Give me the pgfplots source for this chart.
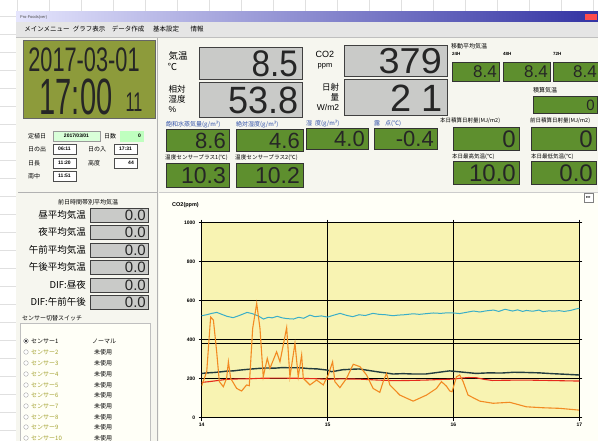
\documentclass[border=0pt]{standalone}
\usepackage{fontspec}
\setmainfont{Noto Sans CJK JP}
\newfontfamily\lcd{Liberation Sans}
\newfontfamily\lat{Liberation Sans}
\newfontfamily\sym{DejaVu Sans}
\usepackage{pgfplots}
\pgfplotsset{compat=1.18}
\definecolor{lcdg}{HTML}{5E8F2E}
\definecolor{lcdgray}{HTML}{C9CAC8}
\definecolor{clockg}{HTML}{8D9B3B}
\definecolor{winbg}{HTML}{F6F6EF}
\definecolor{chartbg}{HTML}{F8F3B2}
\definecolor{cyanl}{HTML}{3AAEC8}
\definecolor{darkl}{HTML}{233C3E}
\definecolor{redl}{HTML}{E62A1C}
\definecolor{orangel}{HTML}{F28A22}
\definecolor{lblue}{HTML}{2F4FA8}
\definecolor{dimtxt}{HTML}{A3A12E}
\newcommand\fs[1]{\fontsize{#1}{#1}\selectfont}
\begin{document}
\begin{tikzpicture}
\path[use as bounding box] (0,0) rectangle (598pt,-441pt);
\begin{scope}[x=1pt,y=-1pt,
  gbox/.style={fill=lcdg, draw=black!80, line width=0.9pt},
  ybox/.style={fill=lcdgray, draw=black!75, line width=0.9pt},
  num/.style={anchor=east, inner sep=0pt, font=\lcd, text=black!85},
  lab/.style={inner sep=0pt, font=\fs{6}},
  blab/.style={inner sep=0pt, font=\fs{6}, text=lblue}]
% page background with spreadsheet grid
\fill[white] (0,0) rectangle (598,441);
\foreach \x in {17,49,81,113,145,177,209,241,273,305,337,369,401,433,465,497,529,561,593}
  \draw[black!12] (\x,0) -- (\x,12);
\foreach \y in {16,34,52,70,88,106,124,142,160,178,196,214,232,250,268,286,304,322,340,358,376,394,412,430}
  \draw[black!12] (0,\y) -- (16,\y);
% window
\fill[winbg] (16,12) rectangle (598,441);
\shade[left color=black!8!blue!10, right color=blue!55!black!80] (16,12) rectangle (598,22);
\node[anchor=west, inner sep=0, font=\lat\fs{4}, text=black!70] at (20,17) {Pro-Foods(ver)};
\fill[red!70] (585,14) rectangle (597,20);
\fill[white!90!black] (16,22) rectangle (598,37);
\node[lab, font=\fs{6.5}] at (47,29) {メインメニュー};
\node[lab, font=\fs{6.5}] at (89,29) {グラフ表示};
\node[lab, font=\fs{6.5}] at (128,29) {データ作成};
\node[lab, font=\fs{6.5}] at (166,29) {基本設定};
\node[lab, font=\fs{6.5}] at (197,29) {情報};
\draw[black!25] (16,37) -- (598,37);
% clock
\fill[clockg] (23,40) rectangle (155,118);
\draw[black!60, line width=0.6pt] (23,40) rectangle (155,118);
\node[num, anchor=center, xscale=0.64, font=\lcd\fs{34}] at (84,60) {2017-03-01};
\node[num, anchor=center, xscale=0.57, font=\lcd\fs{51}] at (76,97) {17:00};
\node[num, anchor=center, xscale=0.6, font=\lcd\fs{27}] at (134,102) {11};
% info block
\node[lab, anchor=west] at (28,136) {定植日};
\draw[fill=green!15!white, draw=black!40] (53,131) rectangle (100,141);
\node[lab, font=\lat\fs{5}\bfseries] at (76.5,136) {2017/03/01};
\node[lab, anchor=west] at (104,136) {日数};
\draw[fill=green!25!white, draw=green!25!white] (120,131) rectangle (143,141);
\node[lab, font=\lat\fs{5}\bfseries, anchor=east] at (141,136) {0};
\node[lab, anchor=west] at (28,149) {日の出};
\draw[fill=white, draw=black!70, line width=0.6pt] (53,144) rectangle (76,154);
\node[lab, font=\lat\fs{5}\bfseries] at (64.5,149) {06:11};
\node[lab, anchor=west] at (88,149) {日の入};
\draw[fill=white, draw=black!70, line width=0.6pt] (114,144) rectangle (137,154);
\node[lab, font=\lat\fs{5}\bfseries] at (125.5,149) {17:31};
\node[lab, anchor=west] at (28,163) {日長};
\draw[fill=white, draw=black!70, line width=0.6pt] (53,158) rectangle (76,168);
\node[lab, font=\lat\fs{5}\bfseries] at (64.5,163) {11:20};
\node[lab, anchor=west] at (88,163) {高度};
\draw[fill=white, draw=black!70, line width=0.6pt] (114,158) rectangle (137,168);
\node[lab, font=\lat\fs{5}\bfseries, anchor=east] at (134,163) {44};
\node[lab, anchor=west] at (28,176) {南中};
\draw[fill=white, draw=black!70, line width=0.6pt] (53,171) rectangle (76,181);
\node[lab, font=\lat\fs{5}\bfseries] at (64.5,176) {11:51};
\draw[black!30] (18,192) -- (157,192);
\draw[black!30] (157,38) -- (157,441);
% left average temps
\node[lab, font=\fs{6}] at (88,202) {前日時間帯別平均気温};
\foreach \yy/\tt in {215/昼平均気温,232/夜平均気温,250/午前平均気温,267/午後平均気温,285/DIF:昼夜,302/DIF:午前午後}{
  \node[lab, font=\fs{9.5}, anchor=east] at (86,\yy) {\tt};
  \draw[ybox] (90,\yy-7) rectangle (148,\yy+7);
  \node[num, font=\lcd\fs{15}] at (146,\yy+0.5) {0.0};
}
\node[lab, anchor=west, font=\fs{6}] at (22,318) {センサー切替スイッチ};
\draw[fill=white!97!yellow, draw=black!25] (20,323) rectangle (150,445);
\draw[black!60, fill=white] (26,341) circle (2.3);
\fill[black] (26,341) circle (1.1);
\node[lab, anchor=west] at (31,341) {センサー1};
\node[lab, anchor=west] at (92,341) {ノーマル};
\foreach \i/\yy in {2/352,3/363,4/374,5/385,6/395,7/406,8/417,9/427,10/438}{
  \draw[black!35, fill=white] (26,\yy) circle (2.3);
  \node[lab, anchor=west, text=dimtxt] at (31,\yy) {センサー\i};
  \node[lab, anchor=west] at (94,\yy) {未使用};
}
% middle top
\node[lab, font=\fontsize{9.5}{10.5}\selectfont, align=left, inner sep=0, anchor=center] at (178,61) {気温\\\hspace*{-1pt}℃};
\draw[ybox] (199,47) rectangle (302,79);
\node[num, font=\lcd\fs{37}, xscale=0.9] at (298,64) {8.5};
\node[lab, font=\fontsize{8.5}{10}\selectfont, align=left, inner sep=0, anchor=center] at (177,99) {相対\\湿度\\{\lat\%}};
\draw[ybox] (199,82) rectangle (302,117);
\node[num, font=\lcd\fs{38}, xscale=0.95] at (299,100) {53.8};
\node[lab, font=\fontsize{9}{10}\selectfont\lat, align=center, anchor=center] at (325,60) {CO2\\\fs{7.5}ppm};
\draw[ybox] (344,45) rectangle (447,76);
\node[num, font=\lcd\fs{36}, xscale=1.05] at (442,61) {379};
\node[lab, font=\fontsize{8.5}{10}\selectfont, align=right, anchor=center] at (328,97) {日射\\量\\{\lat W/m2}};
\draw[ybox] (344,79) rectangle (447,115);
\node[num, font=\lcd\fs{38}] at (443,98) {2\hspace{10pt}1};
% green small boxes
\node[blab, anchor=west] at (166,125) {飽和水蒸気量(g/m³)};
\draw[gbox] (166,129) rectangle (229,151);
\node[num, font=\lcd\fs{22}] at (226,140.5) {8.6};
\node[blab, anchor=west] at (236,125) {絶対湿度(g/m³)};
\draw[gbox] (236,129) rectangle (303,151);
\node[num, font=\lcd\fs{22}] at (300,140.5) {4.6};
\node[blab, anchor=west] at (306,124) {湿\hspace{3pt}度(g/m³)};
\draw[gbox] (306,128) rectangle (368,149);
\node[num, font=\lcd\fs{22}] at (365,139) {4.0};
\node[blab, anchor=west] at (374,124) {露\hspace{5pt}点(℃)};
\draw[gbox] (374,128) rectangle (437,149);
\node[num, font=\lcd\fs{22}] at (434,139) {-0.4};
\node[lab, anchor=west, font=\fs{5.6}] at (165,158) {温度センサープラス1(℃)};
\draw[gbox] (166,163) rectangle (229,187);
\node[num, font=\lcd\fs{23}] at (226,175.5) {10.3};
\node[lab, anchor=west, font=\fs{5.6}] at (235,158) {温度センサープラス2(℃)};
\draw[gbox] (236,163) rectangle (303,187);
\node[num, font=\lcd\fs{23}] at (300,175.5) {10.2};
% right green boxes
\node[lab, anchor=west] at (451,46) {移動平均気温};
\node[lab, anchor=west, font=\lat\fs{4.5}\bfseries] at (452,54) {24H};
\node[lab, anchor=west, font=\lat\fs{4.5}\bfseries] at (503,54) {48H};
\node[lab, anchor=west, font=\lat\fs{4.5}\bfseries] at (553,54) {72H};
\draw[gbox] (452,62) rectangle (499,81);
\node[num, font=\lcd\fs{17}] at (497,72) {8.4};
\draw[gbox] (503,62) rectangle (550,81);
\node[num, font=\lcd\fs{17}] at (548,72) {8.4};
\draw[gbox] (553,62) rectangle (600,81);
\node[num, font=\lcd\fs{17}] at (597,72) {8.4};
\node[lab, anchor=west] at (533,90) {積算気温};
\draw[gbox] (533,96) rectangle (597,113);
\node[num, font=\lcd\fs{15}] at (595,105) {0};
\node[lab, anchor=west, font=\fs{5.5}] at (440,121) {本日積算日射量(MJ/m2)};
\node[lab, anchor=west, font=\fs{5.5}] at (530,121) {前日積算日射量(MJ/m2)};
\draw[gbox] (453,127) rectangle (519,150);
\node[num, font=\lcd\fs{24}] at (516,139) {0};
\draw[gbox] (531,127) rectangle (596,150);
\node[num, font=\lcd\fs{24}] at (593,139) {0};
\node[lab, anchor=west, font=\fs{5.5}] at (452,157) {本日最高気温(℃)};
\node[lab, anchor=west, font=\fs{5.5}] at (531,157) {本日最低気温(℃)};
\draw[gbox] (453,161) rectangle (519,184);
\node[num, font=\lcd\fs{24}] at (516,173) {10.0};
\draw[gbox] (531,161) rectangle (596,184);
\node[num, font=\lcd\fs{24}] at (593,173) {0.0};
% chart panel
\fill[white!97!yellow] (159,192) rectangle (598,441);
\draw[black!20] (159,192) -- (598,192);
\draw[fill=white, draw=black!50] (584,193) rectangle (593,202);
\node[inner sep=0, font=\sym\fs{4}] at (588.5,197.5) {▸▸};
\node[anchor=west, inner sep=0, font=\lat\fs{5.5}\bfseries] at (172,205) {CO2(ppm)};
\end{scope}
\begin{axis}[
  at={(201.7pt,-417.7pt)}, anchor=south west,
  scale only axis, width=377.6pt, height=195pt,
  xmin=14, xmax=17, ymin=0, ymax=1000,
  xtick={14,15,16,17}, ytick={0,200,400,600,800,1000},
  grid=major, major grid style={black, line width=0.9pt},
  axis background/.style={fill=chartbg},
  axis line style={black, line width=1.3pt},
  tick align=outside, major tick length=3pt,
  tick style={black, line width=0.8pt},
  ticklabel style={font=\lat\fs{5}\bfseries},
  /pgf/number format/assume math mode=true,
  /pgf/number format/1000 sep={},
  xticklabel style={yshift=1pt},
]
\addplot[black, line width=0.9pt] coordinates {(14,379) (17,379)};
\addplot[darkl, line width=1.4pt] coordinates {
(14.00,227)(14.05,230)(14.10,232)(14.15,235)(14.20,239)(14.25,240)(14.30,244)(14.35,247)(14.40,250)(14.46,253)(14.52,255)(14.58,254)(14.64,257)(14.70,256)(14.78,256)(14.85,252)(14.92,250)(15.00,244)(15.03,236)(15.07,240)(15.12,246)(15.18,248)(15.25,250)(15.32,243)(15.40,235)(15.46,230)(15.52,224)(15.60,226)(15.68,224)(15.78,224)(15.85,230)(15.92,236)(15.97,240)(16.02,237)(16.10,232)(16.18,227)(16.28,230)(16.38,229)(16.48,233)(16.57,232)(16.68,230)(16.78,226)(16.88,223)(17.00,219)};
\addplot[redl, line width=1.1pt] coordinates {
(14.00,181)(14.06,185)(14.12,190)(14.20,197)(14.30,199)(14.40,200)(14.46,202)(14.60,203)(14.78,202)(14.90,200)(15.00,197)(15.10,199)(15.25,198)(15.40,193)(15.52,190)(15.65,191)(15.78,193)(15.90,196)(16.00,198)(16.06,203)(16.12,206)(16.18,205)(16.25,196)(16.31,191)(16.40,192)(16.57,193)(16.75,191)(16.90,189)(17.00,188)};
\addplot[cyanl, line width=1.0pt] coordinates {
(14.00,523)(14.04,528)(14.08,535)(14.12,540)(14.16,530)(14.20,520)(14.25,513)(14.29,522)(14.33,532)(14.36,540)(14.40,534)(14.45,522)(14.49,506)(14.53,515)(14.56,512)(14.60,520)(14.64,512)(14.68,508)(14.73,506)(14.77,515)(14.81,510)(14.86,526)(14.90,518)(14.95,522)(15.00,516)(15.05,526)(15.10,535)(15.15,525)(15.20,518)(15.25,528)(15.30,524)(15.36,535)(15.41,530)(15.46,528)(15.52,523)(15.56,526)(15.61,528)(15.68,533)(15.73,530)(15.79,534)(15.84,537)(15.90,535)(15.95,538)(16.00,537)(16.05,534)(16.10,540)(16.16,547)(16.21,542)(16.26,548)(16.32,552)(16.36,545)(16.41,556)(16.47,547)(16.51,553)(16.55,545)(16.58,550)(16.63,546)(16.68,552)(16.71,544)(16.76,548)(16.80,546)(16.84,549)(16.88,545)(16.93,550)(16.97,557)(17.00,561)};
\addplot[orangel, line width=1.1pt] coordinates {
(14.000,164)(14.040,236)(14.071,516)(14.093,501)(14.119,338)(14.140,185)(14.172,159)(14.198,202)(14.212,287)(14.230,202)(14.278,150)(14.317,137)(14.357,168)(14.378,164)(14.405,458)(14.437,586)(14.463,458)(14.489,210)(14.521,304)(14.542,253)(14.569,296)(14.595,338)(14.622,287)(14.675,462)(14.701,210)(14.741,381)(14.767,210)(14.794,321)(14.807,202)(14.860,168)(14.913,193)(14.966,168)(15.005,219)(15.040,287)(15.058,185)(15.098,154)(15.151,202)(15.204,274)(15.257,262)(15.310,219)(15.362,150)(15.415,130)(15.442,185)(15.468,227)(15.495,168)(15.574,116)(15.680,85)(15.786,116)(15.865,150)(15.905,185)(15.944,162)(15.971,137)(15.989,133)(16.024,210)(16.050,219)(16.077,185)(16.116,116)(16.209,85)(16.315,74)(16.447,79)(16.579,56)(16.712,51)(16.844,48)(16.997,39)};
\end{axis}
\end{tikzpicture}
\end{document}
